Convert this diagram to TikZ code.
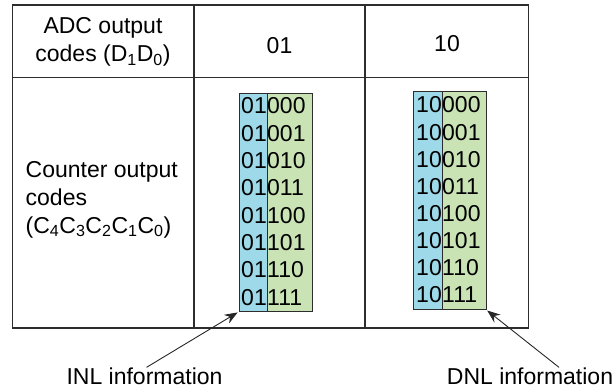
\documentclass[tikz,border=0pt]{standalone}
\usepackage{fontspec}
\setmainfont{Liberation Sans}
\usetikzlibrary{arrows.meta}
\definecolor{codeblue}{RGB}{157,217,232}
\definecolor{codegreen}{RGB}{201,227,181}
\definecolor{rule}{RGB}{45,45,45}

\begin{document}
\begin{tikzpicture}[x=1pt, y=-1pt, font=\fontsize{23}{28}\selectfont,
    col/.style = {draw=rule, line width=0.9pt, anchor=north west, inner sep=0, minimum height=218},
    bits/.style = {inner sep=0},
    lbl/.style = {inner sep=0, align=center},
    pointer/.style = {-{Stealth[length=13pt,width=10pt]}, line width=0.9pt, black!85}]
    \useasboundingbox (0,0) rectangle (613,390);
    % table
    \draw[rule, line width=1.2pt] (12.5,5) rectangle (528.5,328);
    \draw[rule, line width=1.2pt] (12.5,77.5) -- (528.5,77.5);
    \draw[rule, line width=1.2pt] (194,5) -- (194,328);
    \draw[rule, line width=1.2pt] (365,5) -- (365,328);
    \node[lbl] (adc) at (103,42) {ADC output\\codes (D\textsubscript{1}D\textsubscript{0})};
    \node[lbl] (h1) at (279.5,46) {01};
    \node[lbl] (h2) at (447,44) {10};
    \node[lbl, align=left, anchor=north west] (cnt) at (25.5,161) {Counter output\\codes\\(C\textsubscript{4}C\textsubscript{3}C\textsubscript{2}C\textsubscript{1}C\textsubscript{0})};
    % code columns
    \node[col, fill=codeblue, minimum width=28.5] (b1) at (238.5,93) {};
    \node[col, fill=codegreen, minimum width=44.5] (g1) at (267,93) {};
    \node[col, fill=codeblue, minimum width=29] (b2) at (413,91) {};
    \node[col, fill=codegreen, minimum width=43.5] (g2) at (442,91) {};
    \foreach \c [count=\k from 0] in {000,001,010,011,100,101,110,111} {
        \node[bits, anchor=base east] (p\k) at (267,114+27.3*\k) {01};
        \node[bits, anchor=base west] (q\k) at (267,114+27.3*\k) {\c};
        \node[bits, anchor=base east] (r\k) at (442,113+27.1*\k) {10};
        \node[bits, anchor=base west] (s\k) at (442,113+27.1*\k) {\c};
    }
    % notes
    \node[lbl] (inl) at (144.5,376) {INL information};
    \node[lbl] (dnl) at (530,376) {DNL information};
    \draw[pointer, shorten >=1pt] ([xshift=2pt]inl.north) -- (b1.south west);
    \draw[pointer, shorten >=1pt] ([xshift=29pt]dnl.north) -- (g2.south east);
\end{tikzpicture}
\end{document}
